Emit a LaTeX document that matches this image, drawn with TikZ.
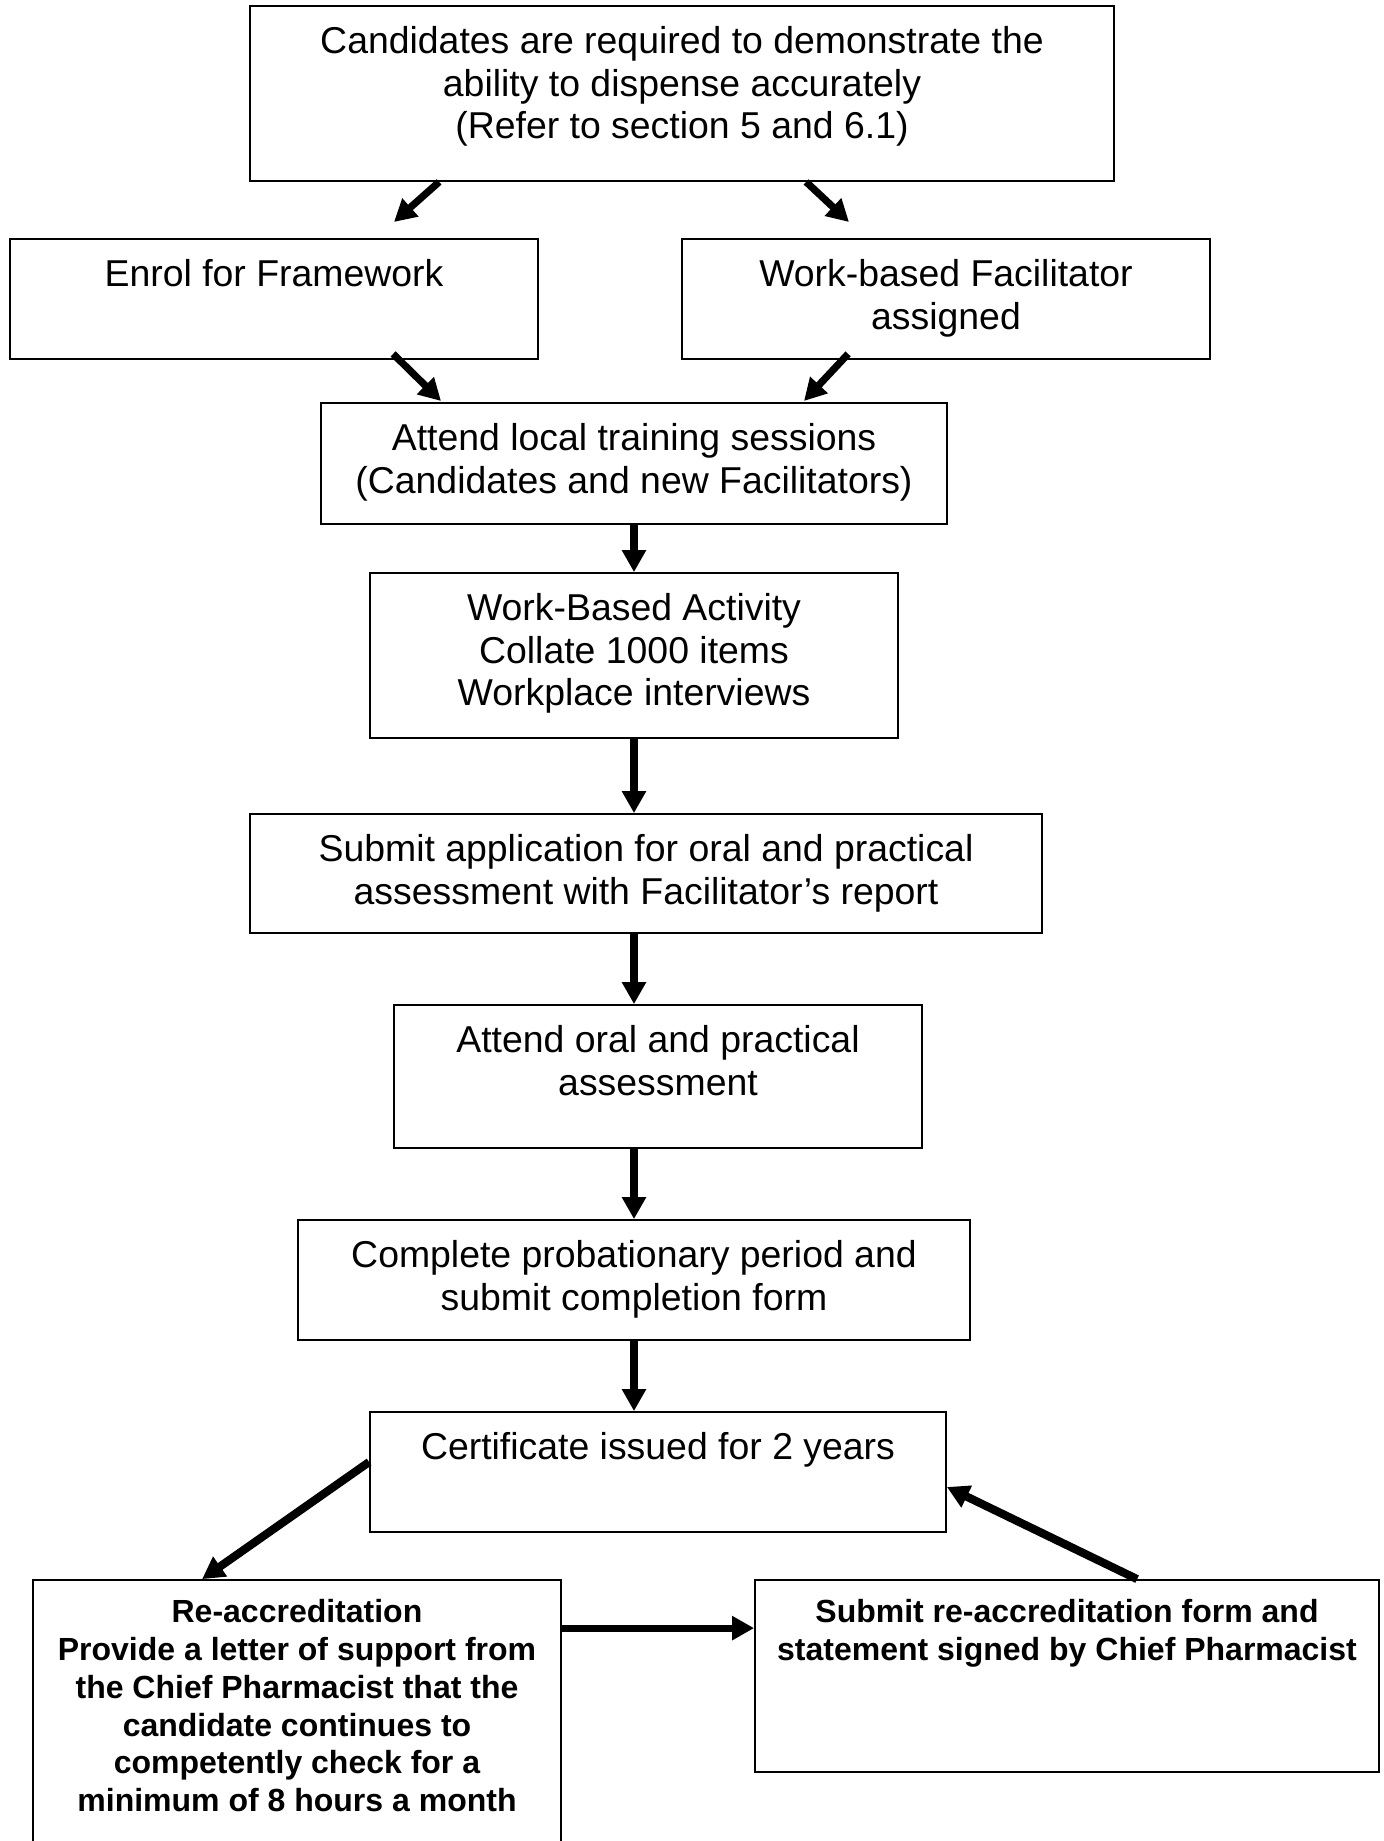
\documentclass[tikz,border=0pt]{standalone}
\usepackage{fontspec}
\setmainfont{Liberation Sans}
\usetikzlibrary{arrows.meta}
\begin{document}
\begin{tikzpicture}[x=0.5pt,y=-0.5pt,
  box/.style={draw, line width=0.9pt, inner sep=0pt, rectangle},
  txt/.style={anchor=north, inner sep=0pt, align=center, font=\fontsize{18.7}{21.2}\selectfont},
  btxt/.style={anchor=north, inner sep=0pt, align=center, font=\bfseries\fontsize{16}{18.9}\selectfont},
  arr/.style={line width=3.6pt, -{Triangle[length=11pt,width=11.5pt]}},
  thickarr/.style={arr, line width=4.1pt}]
\useasboundingbox (0,0) rectangle (1383,1841);
\clip (0,0) rectangle (1383,1841);
\fill[white] (0,0) rectangle (1383,1841);

% boxes
\node[box, minimum width=432pt, minimum height=87.5pt] (top) at (682,93.5) {};
\node[box, minimum width=264pt, minimum height=60pt] (enrol) at (274,299) {};
\node[box, minimum width=264pt, minimum height=60pt] (wbf) at (946,299) {};
\node[box, minimum width=313pt, minimum height=60.5pt] (local) at (634,463.5) {};
\node[box, minimum width=264pt, minimum height=82.5pt] (wba) at (634,655.5) {};
\node[box, minimum width=396pt, minimum height=59.5pt] (submit) at (646,873.5) {};
\node[box, minimum width=264pt, minimum height=71.5pt] (oral) at (658,1076.5) {};
\node[box, minimum width=336pt, minimum height=60pt] (complete) at (634,1280) {};
\node[box, minimum width=288pt, minimum height=60pt] (cert) at (658,1472) {};
\node[box, minimum width=264pt, minimum height=145pt] (reacc) at (297,1725) {};
\node[box, minimum width=312pt, minimum height=96pt] (subre) at (1067,1676) {};

% texts
\node[txt] (topt) at ([yshift=-10.5pt]top.north) {Candidates are required to demonstrate the\\ability to dispense accurately\\(Refer to section 5 and 6.1)};
\node[txt] (enrolt) at ([yshift=-10.5pt]enrol.north) {Enrol for Framework};
\node[txt] (wbft) at ([yshift=-10.5pt]wbf.north) {Work-based Facilitator\\assigned};
\node[txt] (localt) at ([yshift=-10.5pt]local.north) {Attend local training sessions\\(Candidates and new Facilitators)};
\node[txt] (wbat) at ([yshift=-10.5pt]wba.north) {Work-Based Activity\\Collate 1000 items\\Workplace interviews};
\node[txt] (submitt) at ([yshift=-10.5pt]submit.north) {Submit application for oral and practical\\assessment with Facilitator’s report};
\node[txt] (oralt) at ([yshift=-10.5pt]oral.north) {Attend oral and practical\\assessment};
\node[txt] (completet) at ([yshift=-10.5pt]complete.north) {Complete probationary period and\\submit completion form};
\node[txt] (certt) at ([yshift=-10.5pt]cert.north) {Certificate issued for 2 years};
\node[btxt] (reacct) at ([yshift=-10pt]reacc.north) {Re-accreditation\\Provide a letter of support from\\the Chief Pharmacist that the\\candidate continues to\\competently check for a\\minimum of 8 hours a month};
\node[btxt] (subret) at ([yshift=-10pt]subre.north) {Submit re-accreditation form and\\statement signed by Chief Pharmacist};

% arrow tips that stop short of their boxes
\coordinate (t1) at (394,222);
\coordinate (t2) at (849,222);
\coordinate (t3) at (441,401);
\coordinate (t4) at (804,401);

% connectors
\draw[arr] ([xshift=95pt]top.south west) -- (t1);
\draw[arr] ([xshift=278.5pt]top.south west) -- (t2);
\draw[arr] ([xshift=192pt,yshift=3pt]enrol.south west) -- (t3);
\draw[arr] ([xshift=83.5pt,yshift=3pt]wbf.south west) -- (t4);
\draw[arr] (local.south) -- (wba.north);
\draw[arr] (wba.south) -- (wba.south |- submit.north);
\draw[arr] (local.south |- submit.south) -- (local.south |- oral.north);
\draw[arr] (complete.north |- oral.south) -- (complete.north);
\draw[arr] (complete.south) -- (complete.south |- cert.north);
\draw[thickarr] ([yshift=5pt]cert.west) -- ([xshift=85pt]reacc.north west);
\draw[arr] ([yshift=-24.5pt]reacc.north east) -- ([yshift=-24.5pt]subre.north west);
\draw[thickarr] ([xshift=191.5pt]subre.north west) -- ([yshift=-7.5pt]cert.east);
\end{tikzpicture}
\end{document}
